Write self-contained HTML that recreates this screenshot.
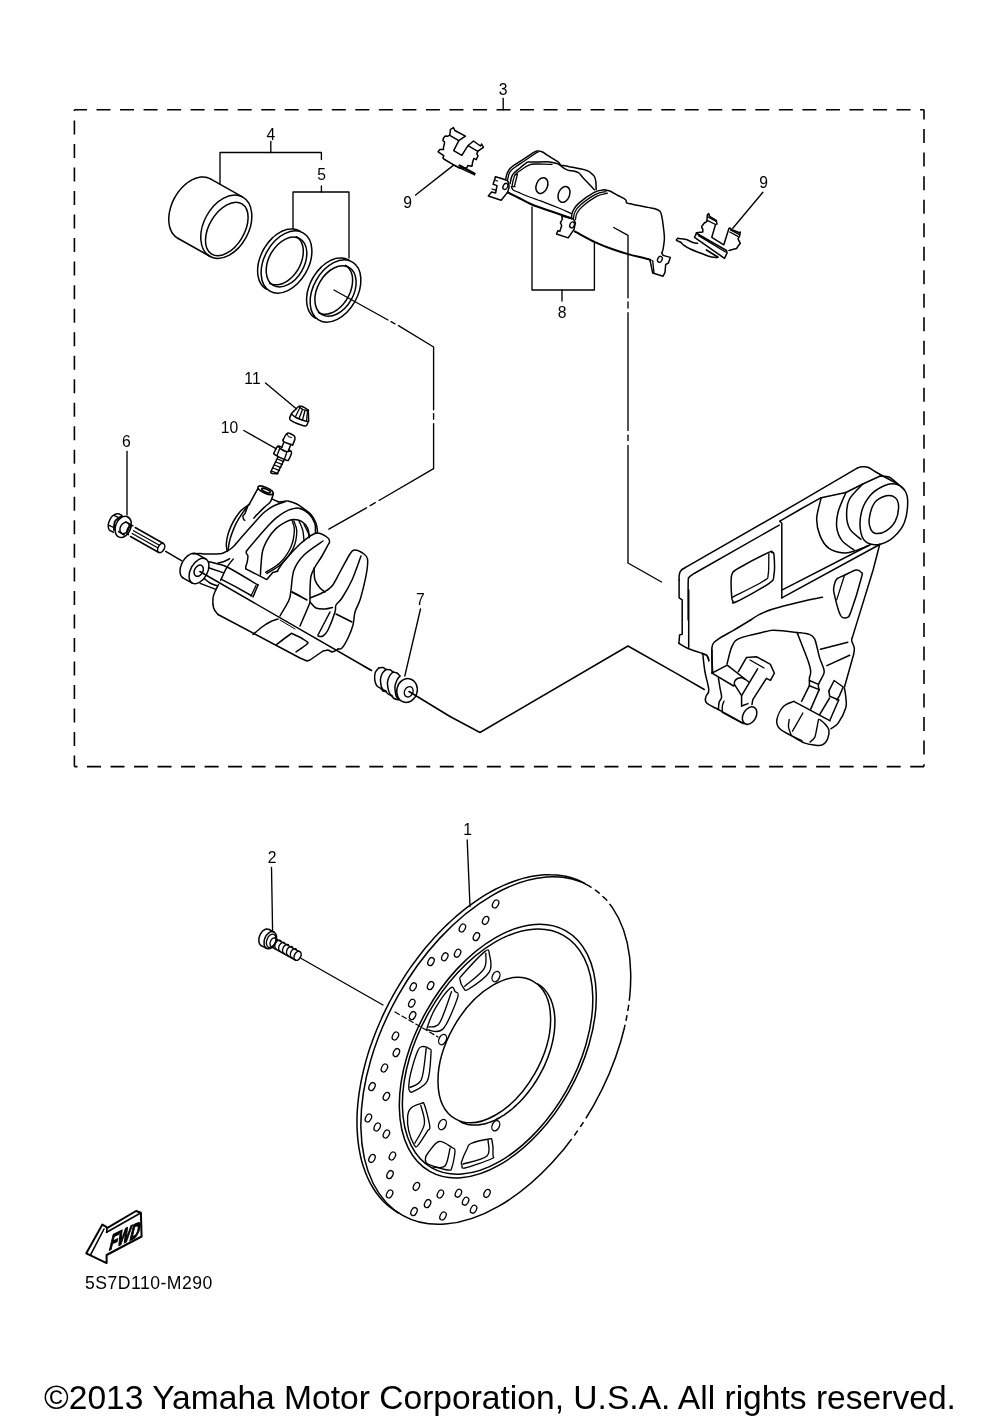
<!DOCTYPE html>
<html><head><meta charset="utf-8"><style>
html,body{margin:0;padding:0;background:#fff;}
body{width:1000px;height:1423px;overflow:hidden;}
svg{display:block;filter:grayscale(1);}
text{font-family:"Liberation Sans",sans-serif;fill:#000;opacity:0.999;}
</style></head><body>
<svg width="1000" height="1423" viewBox="0 0 1000 1423">
<g fill="none" stroke="#000" stroke-width="1.5" stroke-linejoin="round" stroke-linecap="round">
<g stroke-width="1.6" stroke-linecap="butt">
<line x1="74.4" y1="109.7" x2="924" y2="109.7" stroke-dasharray="14 9.53" stroke-dashoffset="1.43"/>
<line x1="74.4" y1="109.7" x2="74.4" y2="766.6" stroke-dasharray="14 9.52" stroke-dashoffset="12.72"/>
<line x1="924" y1="109.7" x2="924" y2="766.6" stroke-dasharray="14 9.52" stroke-dashoffset="4.12"/>
<line x1="74.4" y1="766.6" x2="924" y2="766.6" stroke-dasharray="14 9.52" stroke-dashoffset="10.92"/>
</g>
<g stroke="none">
<text x="503" y="94.8" font-size="15.7" text-anchor="middle">3</text>
<text x="270.8" y="140" font-size="15.7" text-anchor="middle">4</text>
<text x="321.6" y="179.6" font-size="15.7" text-anchor="middle">5</text>
<text x="407.6" y="208" font-size="15.7" text-anchor="middle">9</text>
<text x="763.6" y="188" font-size="15.7" text-anchor="middle">9</text>
<text x="562" y="318" font-size="15.7" text-anchor="middle">8</text>
<text x="252.5" y="384.4" font-size="15.7" text-anchor="middle">11</text>
<text x="229.5" y="433" font-size="15.7" text-anchor="middle">10</text>
<text x="126.3" y="447" font-size="15.7" text-anchor="middle">6</text>
<text x="420.4" y="604.5" font-size="15.7" text-anchor="middle">7</text>
<text x="467.5" y="835" font-size="15.7" text-anchor="middle">1</text>
<text x="272.1" y="862.9" font-size="15.7" text-anchor="middle">2</text>
<text x="84.9" y="1288.9" font-size="17.6" text-anchor="start" letter-spacing="0.5">5S7D110-M290</text>
<text x="44" y="1409" font-size="33.58" text-anchor="start">©2013 Yamaha Motor Corporation, U.S.A. All rights reserved.</text>
</g>
<path d="M503.2 98.3 L503.2 109.7" stroke-width="1.35"/>
<path d="M220 183.8 L220 152.5 L321.4 152.5 L321.4 159.6" stroke-width="1.35"/>
<path d="M270.8 141.5 L270.8 152.5" stroke-width="1.35"/>
<path d="M293 228.6 L293 192 L349 192 L349 258" stroke-width="1.35"/>
<path d="M321.4 186 L321.4 192" stroke-width="1.35"/>
<path d="M532 207 L532 290 L594.4 290 L594.4 243" stroke-width="1.35"/>
<path d="M562 290 L562 301" stroke-width="1.35"/>
<path d="M415.6 195 L453 165.6" stroke-width="1.35"/>
<path d="M762.9 192.2 L732.8 228.3" stroke-width="1.35"/>
<path d="M265.5 383 L296.3 408.8" stroke-width="1.35"/>
<path d="M243.8 430.5 L276.3 448.8" stroke-width="1.35"/>
<path d="M127 451.3 L127 515" stroke-width="1.35"/>
<path d="M420.5 609 L404.8 676" stroke-width="1.35"/>
<path d="M467.2 840 L470 906.5" stroke-width="1.35"/>
<path d="M271.5 867.4 L272.6 931.5" stroke-width="1.35"/>
<ellipse cx="495.8" cy="1050.6" rx="189.3" ry="112.1" transform="rotate(-60.5 495.8 1050.6)"/>
<path d="M585.1 883.6 C584.2 883.2 581.7 881.8 579.9 881 C578.1 880.2 576.3 879.4 574.4 878.8 C572.5 878.1 570.6 877.5 568.7 877 C566.8 876.5 564.8 876.1 562.8 875.8 C560.8 875.4 558.8 875.2 556.7 875 C554.6 874.8 552.5 874.7 550.4 874.7 C548.3 874.6 546.1 874.7 544 874.8 C541.8 874.9 539.6 875.2 537.4 875.4 C535.2 875.7 532.9 876.1 530.7 876.5 C528.4 877 526.1 877.5 523.9 878.1 C521.6 878.7 519.3 879.4 517 880.2 C514.6 880.9 512.3 881.8 510 882.7 C507.6 883.6 505.3 884.6 503 885.6 C500.6 886.7 498.3 887.8 495.9 889 C493.6 890.2 491.2 891.5 488.8 892.9 C486.5 894.2 484.1 895.7 481.8 897.1 C479.4 898.6 477.1 900.2 474.8 901.8 C472.4 903.5 470.1 905.2 467.8 906.9 C465.5 908.7 463.2 910.5 460.9 912.4 C458.6 914.3 456.3 916.2 454 918.2 C451.8 920.2 449.5 922.3 447.3 924.4 C445.1 926.6 442.9 928.7 440.7 931 C438.5 933.2 436.4 935.5 434.2 937.8 C432.1 940.2 430 942.6 427.9 945 C425.9 947.4 423.8 949.9 421.8 952.5 C419.8 955 417.8 957.6 415.9 960.2 C413.9 962.8 412 965.4 410.1 968.1 C408.3 970.8 406.4 973.5 404.6 976.3 C402.8 979.1 401.1 981.8 399.4 984.7 C397.7 987.5 396 990.3 394.4 993.2 C392.7 996.1 391.2 999 389.6 1001.9 C388.1 1004.8 386.6 1007.8 385.2 1010.7 C383.7 1013.7 382.3 1016.7 381 1019.7 C379.6 1022.7 378.4 1025.7 377.1 1028.7 C375.9 1031.7 374.7 1034.7 373.6 1037.7 C372.4 1040.8 371.4 1043.8 370.3 1046.8 C369.3 1049.9 368.3 1052.9 367.4 1055.9 C366.5 1059 365.7 1062 364.9 1065 C364.1 1068 363.4 1071 362.7 1074 C362 1077 361.4 1080 360.8 1083 C360.3 1086 359.8 1088.9 359.3 1091.9 C358.9 1094.8 358.5 1097.7 358.2 1100.6 C357.9 1103.5 357.6 1106.4 357.4 1109.2 C357.2 1112 357.1 1114.9 357 1117.6 C357 1120.4 357 1123.2 357 1125.9 C357.1 1128.6 357.2 1131.3 357.4 1133.9 C357.5 1136.6 357.8 1139.2 358.1 1141.7 C358.4 1144.3 358.7 1146.8 359.2 1149.3 C359.6 1151.7 360.1 1154.1 360.6 1156.5 C361.1 1158.9 361.7 1161.2 362.4 1163.5 C363.1 1165.8 363.8 1168 364.6 1170.1 C365.3 1172.3 366.2 1174.4 367.1 1176.5 C368 1178.5 368.9 1180.5 369.9 1182.4 C370.9 1184.4 372 1186.2 373.1 1188 C374.2 1189.8 375.4 1191.6 376.6 1193.3 C377.8 1194.9 379.1 1196.5 380.4 1198.1 C381.8 1199.6 383.1 1201.1 384.6 1202.5 C386 1203.9 387.5 1205.2 389 1206.5 C390.5 1207.7 392.1 1208.9 393.7 1210 C395.3 1211.2 397.9 1212.6 398.7 1213.2"/>
<ellipse cx="497.8" cy="1051.1" rx="138.2" ry="81.8" transform="rotate(-60.5 497.8 1051.1)"/>
<ellipse cx="497.6" cy="1051.6" rx="133.6" ry="79.1" transform="rotate(-60.5 497.6 1051.6)"/>
<ellipse cx="494.3" cy="1050.1" rx="79" ry="46.8" transform="rotate(-60.5 494.3 1050.1)"/>
<path d="M537.5 983.8 C538 984.2 539.6 985.1 540.6 985.9 C541.6 986.6 542.5 987.4 543.4 988.3 C544.3 989.2 545.1 990.1 545.9 991.1 C546.7 992.1 547.5 993.2 548.2 994.3 C548.9 995.5 549.5 996.6 550.1 997.9 C550.7 999.1 551.3 1000.4 551.7 1001.8 C552.2 1003.1 552.7 1004.6 553 1006 C553.4 1007.5 553.7 1009 554 1010.5 C554.3 1012.1 554.5 1013.6 554.6 1015.3 C554.8 1016.9 554.9 1018.6 554.9 1020.3 C554.9 1022 554.9 1023.7 554.8 1025.5 C554.7 1027.2 554.6 1029 554.4 1030.8 C554.2 1032.6 553.9 1034.5 553.6 1036.3 C553.3 1038.2 553 1040 552.5 1041.9 C552.1 1043.8 551.6 1045.7 551.1 1047.6 C550.6 1049.5 550 1051.4 549.3 1053.3 C548.7 1055.2 548 1057.1 547.3 1058.9 C546.5 1060.8 545.7 1062.7 544.9 1064.6 C544.1 1066.5 543.2 1068.3 542.2 1070.2 C541.3 1072 540.3 1073.8 539.3 1075.6 C538.3 1077.4 537.2 1079.2 536.1 1081 C535 1082.7 533.9 1084.4 532.7 1086.1 C531.5 1087.8 530.3 1089.4 529.1 1091 C527.9 1092.7 526.6 1094.2 525.3 1095.7 C524 1097.3 522.7 1098.8 521.3 1100.2 C520 1101.6 518.6 1103 517.2 1104.3 C515.8 1105.7 514.4 1106.9 513 1108.2 C511.6 1109.4 510.1 1110.5 508.7 1111.6 C507.2 1112.7 505.8 1113.8 504.3 1114.8 C502.8 1115.7 501.3 1116.7 499.9 1117.5 C498.4 1118.3 496.9 1119.1 495.5 1119.8 C494 1120.6 492.5 1121.2 491.1 1121.8 C489.6 1122.3 488.1 1122.8 486.7 1123.3 C485.3 1123.7 483.8 1124 482.4 1124.3 C481 1124.6 479.6 1124.8 478.2 1124.9 C476.9 1125.1 475.5 1125.1 474.2 1125.1 C472.9 1125.1 471.5 1125 470.3 1124.8 C469 1124.7 467.8 1124.4 466.5 1124.1 C465.3 1123.8 464.2 1123.4 463 1123 C461.9 1122.5 460.3 1121.6 459.7 1121.4"/>
<ellipse cx="495.6" cy="904" rx="2.8" ry="4.2" transform="rotate(27 495.6 904)" stroke-width="1.3"/>
<ellipse cx="485.6" cy="920.4" rx="2.8" ry="4.2" transform="rotate(27 485.6 920.4)" stroke-width="1.3"/>
<ellipse cx="462.4" cy="928" rx="2.8" ry="4.2" transform="rotate(27 462.4 928)" stroke-width="1.3"/>
<ellipse cx="476.4" cy="936.6" rx="2.8" ry="4.2" transform="rotate(27 476.4 936.6)" stroke-width="1.3"/>
<ellipse cx="457.6" cy="953.2" rx="2.8" ry="4.2" transform="rotate(27 457.6 953.2)" stroke-width="1.3"/>
<ellipse cx="444.8" cy="956.8" rx="2.8" ry="4.2" transform="rotate(27 444.8 956.8)" stroke-width="1.3"/>
<ellipse cx="431" cy="961.6" rx="2.8" ry="4.2" transform="rotate(27 431 961.6)" stroke-width="1.3"/>
<ellipse cx="413.2" cy="986.8" rx="2.8" ry="4.2" transform="rotate(27 413.2 986.8)" stroke-width="1.3"/>
<ellipse cx="430.6" cy="985.6" rx="2.8" ry="4.2" transform="rotate(27 430.6 985.6)" stroke-width="1.3"/>
<ellipse cx="411.8" cy="1003.2" rx="2.8" ry="4.2" transform="rotate(27 411.8 1003.2)" stroke-width="1.3"/>
<ellipse cx="412.6" cy="1015.6" rx="2.8" ry="4.2" transform="rotate(27 412.6 1015.6)" stroke-width="1.3"/>
<ellipse cx="395.4" cy="1036" rx="2.8" ry="4.2" transform="rotate(27 395.4 1036)" stroke-width="1.3"/>
<ellipse cx="396.4" cy="1052.6" rx="2.8" ry="4.2" transform="rotate(27 396.4 1052.6)" stroke-width="1.3"/>
<ellipse cx="384.4" cy="1068" rx="2.8" ry="4.2" transform="rotate(27 384.4 1068)" stroke-width="1.3"/>
<ellipse cx="372" cy="1086.6" rx="2.8" ry="4.2" transform="rotate(27 372 1086.6)" stroke-width="1.3"/>
<ellipse cx="386.4" cy="1096.4" rx="2.8" ry="4.2" transform="rotate(27 386.4 1096.4)" stroke-width="1.3"/>
<ellipse cx="368.4" cy="1118" rx="2.8" ry="4.2" transform="rotate(27 368.4 1118)" stroke-width="1.3"/>
<ellipse cx="377.2" cy="1127" rx="2.8" ry="4.2" transform="rotate(27 377.2 1127)" stroke-width="1.3"/>
<ellipse cx="386.4" cy="1134" rx="2.8" ry="4.2" transform="rotate(27 386.4 1134)" stroke-width="1.3"/>
<ellipse cx="372" cy="1158.4" rx="2.8" ry="4.2" transform="rotate(27 372 1158.4)" stroke-width="1.3"/>
<ellipse cx="392.4" cy="1156" rx="2.8" ry="4.2" transform="rotate(27 392.4 1156)" stroke-width="1.3"/>
<ellipse cx="390" cy="1174.6" rx="2.8" ry="4.2" transform="rotate(27 390 1174.6)" stroke-width="1.3"/>
<ellipse cx="389.6" cy="1194" rx="2.8" ry="4.2" transform="rotate(27 389.6 1194)" stroke-width="1.3"/>
<ellipse cx="416.4" cy="1186.4" rx="2.8" ry="4.2" transform="rotate(27 416.4 1186.4)" stroke-width="1.3"/>
<ellipse cx="414" cy="1211.6" rx="2.8" ry="4.2" transform="rotate(27 414 1211.6)" stroke-width="1.3"/>
<ellipse cx="427.6" cy="1203.6" rx="2.8" ry="4.2" transform="rotate(27 427.6 1203.6)" stroke-width="1.3"/>
<ellipse cx="440.4" cy="1194" rx="2.8" ry="4.2" transform="rotate(27 440.4 1194)" stroke-width="1.3"/>
<ellipse cx="443" cy="1216" rx="2.8" ry="4.2" transform="rotate(27 443 1216)" stroke-width="1.3"/>
<ellipse cx="458.4" cy="1193.2" rx="2.8" ry="4.2" transform="rotate(27 458.4 1193.2)" stroke-width="1.3"/>
<ellipse cx="465.6" cy="1201.2" rx="2.8" ry="4.2" transform="rotate(27 465.6 1201.2)" stroke-width="1.3"/>
<ellipse cx="473.6" cy="1209.2" rx="2.8" ry="4.2" transform="rotate(27 473.6 1209.2)" stroke-width="1.3"/>
<ellipse cx="487" cy="1193.4" rx="2.8" ry="4.2" transform="rotate(27 487 1193.4)" stroke-width="1.3"/>
<ellipse cx="496" cy="976.6" rx="3.6" ry="5.4" transform="rotate(25 496 976.6)" stroke-width="1.35"/>
<ellipse cx="442.6" cy="1039.6" rx="3.6" ry="5.4" transform="rotate(25 442.6 1039.6)" stroke-width="1.35"/>
<ellipse cx="442.4" cy="1124.6" rx="3.6" ry="5.4" transform="rotate(25 442.4 1124.6)" stroke-width="1.35"/>
<ellipse cx="495.8" cy="1125.8" rx="3.6" ry="5.4" transform="rotate(25 495.8 1125.8)" stroke-width="1.35"/>
<path d="M485 951.4 C489.5 948 488.7 951 489.4 954.4 C490.1 957.8 492.9 966 489.4 971.8 C485.9 977.6 472.7 986.5 468.4 989.2 C464.1 991.9 465 989.6 463.6 988 C462.2 986.4 460.2 981.8 460 979.6 C459.8 977.4 458.2 979.5 462.4 974.8 C466.6 970.1 480.5 954.8 485 951.4Z" stroke-width="1.35"/>
<path d="M464.8 986.2 C468 983.3 480.5 974.3 484 968.8 C487.5 963.3 485.5 955.8 485.8 953.2" stroke-width="1.35"/>
<path d="M450.4 988 C453.6 985.4 454 990 455.2 991.6 C456.4 993.2 459.6 991.4 457.6 997.6 C455.6 1003.8 448 1023.4 443.2 1028.8 C438.4 1034.2 431.4 1030.4 428.8 1030 C426.2 1029.6 426.4 1030.2 427.6 1026.4 C428.8 1022.6 432.2 1013.6 436 1007.2 C439.8 1000.8 447.2 990.6 450.4 988Z" stroke-width="1.35"/>
<path d="M451.6 991.6 C449.6 996.8 443.4 1016.9 439.6 1022.8 C435.8 1028.7 430.6 1026.3 428.8 1027" stroke-width="1.35"/>
<path d="M422.6 1046.6 C424.6 1046.3 428.4 1047.9 429.8 1049 C431.2 1050.1 431.4 1047.9 431 1053.2 C430.6 1058.5 430.4 1074.4 427.4 1080.8 C424.4 1087.2 416 1090 413 1091.6 C410 1093.2 410.1 1091.4 409.4 1090.4 C408.7 1089.4 408.6 1088.4 408.8 1085.6 C409 1082.8 409.1 1079.4 410.6 1073.6 C412.1 1067.8 415.8 1055.3 417.8 1050.8 C419.8 1046.3 420.6 1046.9 422.6 1046.6Z" stroke-width="1.35"/>
<path d="M426.2 1048.4 C425.4 1053.6 424.1 1073.1 421.4 1079.6 C418.7 1086.1 411.9 1086.1 410 1087.4" stroke-width="1.35"/>
<path d="M420.8 1103.6 C423.1 1103 422.9 1101 424.4 1104.8 C425.9 1108.6 429.3 1122 429.8 1126.4 C430.3 1130.8 429.4 1128 427.4 1131.2 C425.4 1134.4 420 1143.3 417.8 1145.6 C415.6 1147.9 415.7 1147.4 414.2 1145 C412.7 1142.6 409.9 1135.9 408.8 1131.2 C407.7 1126.5 407.3 1120.6 407.6 1116.8 C407.9 1113 408.4 1110.6 410.6 1108.4 C412.8 1106.2 418.5 1104.2 420.8 1103.6Z" stroke-width="1.35"/>
<path d="M420.8 1105.4 C421.4 1108.5 425.4 1117.7 424.4 1124 C423.4 1130.3 416.4 1140 414.8 1143.2" stroke-width="1.35"/>
<path d="M439 1141.5 C443 1140.6 449.3 1145.9 452 1147.5 C454.7 1149.1 455 1147.8 455 1151 C455 1154.2 453.2 1163.8 452 1167 C450.8 1170.2 452 1170.5 448 1170 C444 1169.5 431.8 1166 428 1164 C424.2 1162 425.5 1159.8 425.5 1158 C425.5 1156.2 425.8 1155.8 428 1153 C430.2 1150.2 435 1142.4 439 1141.5Z" stroke-width="1.35"/>
<path d="M450 1148.5 C449.2 1151.4 447.8 1162.9 445 1166 C442.2 1169.1 435 1166.8 433 1167" stroke-width="1.35"/>
<path d="M471 1143.5 C474.7 1141.8 485.5 1139.5 489 1139 C492.5 1138.5 491.3 1137.8 492 1140.5 C492.7 1143.2 493.2 1151.9 493 1155 C492.8 1158.1 495.7 1156.8 491 1159 C486.3 1161.2 469.8 1167 465 1168 C460.2 1169 462.6 1166 462 1165 C461.4 1164 460.7 1164.7 461.5 1162 C462.3 1159.3 465.4 1152.1 467 1149 C468.6 1145.9 467.3 1145.2 471 1143.5Z" stroke-width="1.35"/>
<path d="M488 1140 C487.8 1142.7 491.2 1152 487 1156 C482.8 1160 467 1162.7 463 1164" stroke-width="1.35"/>
<path d="M301.3 958.5 L383 1005" stroke-width="1.35"/>
<path d="M395 1012 L438 1037" stroke-width="1.2" stroke-dasharray="5 3"/>
<path d="M591.7 887.4 L595 889.6" stroke="#fff" stroke-width="3.2" stroke-linecap="butt"/>
<path d="M599.8 893.4 L602.6 896" stroke="#fff" stroke-width="3.2" stroke-linecap="butt"/>
<path d="M607.2 900.8 L609.6 903.8" stroke="#fff" stroke-width="3.2" stroke-linecap="butt"/>
<path d="M629.3 1000.7 L628.7 1004.8" stroke="#fff" stroke-width="3.2" stroke-linecap="butt"/>
<path d="M627.8 1011 L627 1015.1" stroke="#fff" stroke-width="3.2" stroke-linecap="butt"/>
<path d="M625.9 1020.9 L625.1 1024.8" stroke="#fff" stroke-width="3.2" stroke-linecap="butt"/>
<path d="M585.9 1118.3 L583.4 1122.1" stroke="#fff" stroke-width="3.2" stroke-linecap="butt"/>
<path d="M580.3 1126.9 L577.8 1130.6" stroke="#fff" stroke-width="3.2" stroke-linecap="butt"/>
<path d="M574.3 1135.5 L571.7 1139" stroke="#fff" stroke-width="3.2" stroke-linecap="butt"/>
<ellipse cx="226.3" cy="226.7" rx="33.9" ry="22.5" transform="rotate(-61.6 226.3 226.7)"/>
<ellipse cx="226.8" cy="229" rx="29.4" ry="17.5" transform="rotate(-59 226.8 229)"/>
<path d="M178.2 238.5 C177.8 238.3 176.8 237.7 176.2 237.2 C175.6 236.8 175 236.2 174.4 235.6 C173.9 235.1 173.3 234.4 172.8 233.8 C172.4 233.1 171.9 232.4 171.5 231.6 C171.1 230.8 170.8 230 170.4 229.2 C170.1 228.3 169.8 227.4 169.6 226.5 C169.4 225.6 169.2 224.7 169.1 223.7 C168.9 222.7 168.8 221.7 168.8 220.7 C168.8 219.7 168.8 218.6 168.8 217.6 C168.9 216.5 169 215.4 169.1 214.3 C169.2 213.3 169.4 212.2 169.7 211.1 C169.9 210 170.2 208.8 170.5 207.7 C170.8 206.6 171.2 205.5 171.6 204.4 C172 203.3 172.4 202.2 172.9 201.2 C173.4 200.1 173.9 199 174.5 198 C175.1 197 175.7 195.9 176.3 194.9 C176.9 193.9 177.6 193 178.3 192 C179 191.1 179.7 190.2 180.5 189.3 C181.2 188.4 182 187.6 182.8 186.8 C183.6 186 184.4 185.2 185.2 184.5 C186.1 183.8 186.9 183.1 187.8 182.5 C188.6 181.9 189.5 181.3 190.4 180.8 C191.3 180.3 192.2 179.8 193 179.4 C193.9 179 194.8 178.6 195.7 178.3 C196.6 178 197.5 177.7 198.4 177.5 C199.2 177.3 200.1 177.2 201 177.1 C201.8 177 202.7 177 203.5 177 C204.3 177.1 205.2 177.2 206 177.3 C206.7 177.5 207.5 177.7 208.3 177.9 C209 178.2 210.1 178.7 210.4 178.9"/>
<path d="M242.4 196.9 L210.4 178.9"/>
<path d="M210.2 256.5 L178.2 238.5"/>
<ellipse cx="286.5" cy="262" rx="33.5" ry="22.1" transform="rotate(119.7 286.5 262)"/>
<path d="M266.4 289.1 C266.1 288.9 265.1 288.3 264.5 287.8 C263.9 287.3 263.3 286.8 262.8 286.2 C262.2 285.6 261.7 284.9 261.3 284.3 C260.8 283.6 260.4 282.9 260 282.1 C259.6 281.3 259.3 280.5 259 279.7 C258.7 278.9 258.5 278 258.3 277.1 C258.1 276.2 257.9 275.2 257.8 274.3 C257.7 273.3 257.6 272.3 257.6 271.3 C257.6 270.3 257.6 269.3 257.7 268.2 C257.8 267.2 257.9 266.1 258.1 265 C258.2 264 258.4 262.9 258.7 261.8 C259 260.7 259.3 259.6 259.6 258.6 C260 257.5 260.3 256.4 260.8 255.3 C261.2 254.2 261.7 253.2 262.2 252.1 C262.7 251.1 263.2 250 263.8 249 C264.4 248 265 247 265.6 246.1 C266.3 245.1 267 244.1 267.7 243.2 C268.4 242.3 269.1 241.4 269.9 240.6 C270.6 239.7 271.4 238.9 272.2 238.1 C273 237.4 273.8 236.6 274.7 236 C275.5 235.3 276.4 234.6 277.2 234 C278.1 233.4 279 232.9 279.9 232.4 C280.7 231.9 281.6 231.4 282.5 231 C283.4 230.7 284.3 230.3 285.2 230 C286 229.7 286.9 229.5 287.8 229.3 C288.7 229.2 289.5 229 290.4 229 C291.2 228.9 292.1 228.9 292.9 228.9 C293.7 229 294.5 229.1 295.3 229.3 C296 229.4 296.8 229.7 297.5 229.9 C298.2 230.2 299.3 230.7 299.6 230.9"/>
<ellipse cx="286.5" cy="262" rx="26.8" ry="17.7" transform="rotate(119.7 286.5 262)"/>
<path d="M296.3 236.7 C296.6 236.9 297.3 237.4 297.8 237.8 C298.3 238.2 298.8 238.6 299.2 239.1 C299.6 239.5 300 240 300.4 240.6 C300.8 241.1 301.1 241.7 301.4 242.3 C301.7 242.9 302 243.6 302.2 244.2 C302.4 244.9 302.6 245.6 302.8 246.3 C302.9 247.1 303.1 247.8 303.2 248.6 C303.2 249.3 303.3 250.1 303.3 251 C303.3 251.8 303.3 252.6 303.2 253.4 C303.2 254.3 303.1 255.1 302.9 256 C302.8 256.8 302.6 257.7 302.4 258.6 C302.2 259.4 302 260.3 301.7 261.2 C301.4 262 301.1 262.9 300.8 263.7 C300.4 264.6 300.1 265.5 299.7 266.3 C299.3 267.1 298.8 268 298.4 268.8 C297.9 269.6 297.4 270.4 296.9 271.2 C296.4 271.9 295.8 272.7 295.3 273.4 C294.7 274.2 294.1 274.9 293.5 275.5 C292.9 276.2 292.3 276.9 291.6 277.5 C291 278.1 290.3 278.7 289.7 279.2 C289 279.8 288.3 280.3 287.6 280.8 C286.9 281.3 286.2 281.7 285.5 282.1 C284.8 282.5 284.1 282.8 283.4 283.2 C282.7 283.5 282 283.8 281.3 284 C280.6 284.2 279.9 284.4 279.2 284.5 C278.5 284.7 277.8 284.8 277.1 284.8 C276.4 284.9 275.8 284.9 275.1 284.8 C274.4 284.8 273.8 284.7 273.2 284.6 C272.6 284.5 272 284.3 271.4 284.1 C270.8 283.8 270 283.4 269.7 283.3"/>
<ellipse cx="335.5" cy="291" rx="33.5" ry="22.1" transform="rotate(119.7 335.5 291)"/>
<path d="M315.4 318.1 C315.1 317.9 314.1 317.3 313.5 316.8 C312.9 316.3 312.3 315.8 311.8 315.2 C311.2 314.6 310.7 313.9 310.3 313.3 C309.8 312.6 309.4 311.9 309 311.1 C308.6 310.3 308.3 309.5 308 308.7 C307.7 307.9 307.5 307 307.3 306.1 C307.1 305.2 306.9 304.2 306.8 303.3 C306.7 302.3 306.6 301.3 306.6 300.3 C306.6 299.3 306.6 298.3 306.7 297.2 C306.8 296.2 306.9 295.1 307.1 294 C307.2 293 307.4 291.9 307.7 290.8 C308 289.7 308.3 288.6 308.6 287.6 C309 286.5 309.3 285.4 309.8 284.3 C310.2 283.2 310.7 282.2 311.2 281.1 C311.7 280.1 312.2 279 312.8 278 C313.4 277 314 276 314.6 275.1 C315.3 274.1 316 273.1 316.7 272.2 C317.4 271.3 318.1 270.4 318.9 269.6 C319.6 268.7 320.4 267.9 321.2 267.1 C322 266.4 322.8 265.6 323.7 265 C324.5 264.3 325.4 263.6 326.2 263 C327.1 262.4 328 261.9 328.9 261.4 C329.7 260.9 330.6 260.4 331.5 260 C332.4 259.7 333.3 259.3 334.2 259 C335 258.7 335.9 258.5 336.8 258.3 C337.7 258.2 338.5 258 339.4 258 C340.2 257.9 341.1 257.9 341.9 257.9 C342.7 258 343.5 258.1 344.3 258.3 C345 258.4 345.8 258.7 346.5 258.9 C347.2 259.2 348.3 259.7 348.6 259.9"/>
<ellipse cx="335.5" cy="291" rx="27.2" ry="18" transform="rotate(119.7 335.5 291)"/>
<path d="M345.5 265.4 C345.8 265.6 346.6 266 347.1 266.4 C347.5 266.8 348 267.3 348.4 267.8 C348.9 268.2 349.3 268.7 349.7 269.3 C350 269.8 350.4 270.4 350.7 271 C351 271.7 351.2 272.3 351.5 273 C351.7 273.7 351.9 274.4 352.1 275.1 C352.2 275.9 352.4 276.6 352.5 277.4 C352.5 278.2 352.6 279 352.6 279.8 C352.6 280.6 352.6 281.5 352.5 282.3 C352.5 283.2 352.4 284 352.2 284.9 C352.1 285.8 351.9 286.7 351.7 287.5 C351.5 288.4 351.3 289.3 351 290.2 C350.7 291.1 350.4 291.9 350.1 292.8 C349.7 293.7 349.3 294.5 348.9 295.4 C348.5 296.2 348.1 297.1 347.6 297.9 C347.1 298.7 346.6 299.5 346.1 300.3 C345.6 301.1 345 301.9 344.4 302.6 C343.9 303.4 343.3 304.1 342.7 304.8 C342 305.5 341.4 306.1 340.8 306.7 C340.1 307.4 339.4 308 338.8 308.5 C338.1 309.1 337.4 309.6 336.7 310.1 C336 310.6 335.3 311 334.6 311.4 C333.8 311.8 333.1 312.2 332.4 312.5 C331.7 312.8 331 313.1 330.2 313.3 C329.5 313.6 328.8 313.8 328.1 313.9 C327.4 314 326.7 314.1 326 314.2 C325.3 314.2 324.6 314.3 324 314.2 C323.3 314.2 322.7 314.1 322 314 C321.4 313.8 320.8 313.6 320.2 313.4 C319.6 313.2 318.8 312.7 318.5 312.6"/>
<path d="M334 290 L388 320" stroke-width="1.35"/>
<path d="M391 321.6 L395 323.8" stroke-width="1.35"/>
<path d="M398.5 325.7 L433.6 347 L433.6 409.7" stroke-width="1.35"/>
<path d="M433.6 413.6 L433.6 419.3" stroke-width="1.35"/>
<path d="M433.6 423.7 L433.6 468.7 L379 500.5" stroke-width="1.35"/>
<path d="M375.3 502.7 L370.2 505.6" stroke-width="1.35"/>
<path d="M366.5 507.8 L328.9 529.2" stroke-width="1.35"/>
<ellipse cx="265.5" cy="490.3" rx="8.3" ry="2.9" transform="rotate(24 265.5 490.3)"/>
<ellipse cx="266" cy="490.6" rx="4.6" ry="1.5" transform="rotate(24 266 490.6)" stroke-width="1.7"/>
<path d="M257.8 488.6 L248.8 505.2"/>
<path d="M247.9 505.5 C247.4 506.8 245.9 511.5 245.1 513.2 C244.3 515 243.2 515 243 516 C242.8 517 243.4 518.8 243.7 519.5 C244 520.2 244.6 520.1 244.8 520.2"/>
<path d="M273.4 493.6 C273.1 494.5 272.3 497.4 271.7 498.9 C271.1 500.4 270.9 501.2 269.6 502.7 C268.3 504.1 266.1 505.6 264 507.6 C261.9 509.6 258.7 512.9 257 514.6 C255.3 516.4 254.4 517.5 253.9 518.1"/>
<path d="M271.7 498.9 L278.7 502"/>
<path d="M249.5 504.2 C248.1 505.2 243.5 508 241.1 510.5 C238.7 513 236.6 516.2 234.8 519 C233 521.8 231.7 524.6 230.5 527.4 C229.3 530.2 228.3 533.1 227.6 535.9 C226.9 538.7 226.4 541.7 226.3 544.3 C226.2 546.9 227 550.3 227.2 551.5"/>
<path d="M247.8 505.9 C246.8 507.2 243.9 510.9 241.9 513.9 C239.9 516.9 237.7 520.3 236 523.6 C234.3 526.9 232.9 530.7 231.8 533.8 C230.7 536.9 229.9 539.4 229.3 542.2 C228.7 545 228.2 549.2 228 550.6"/>
<path d="M278.7 502 C279.8 501.9 283.4 501.5 285 501.3 C286.6 501.1 286 500.6 288 501 C290 501.4 294.1 502.7 296.8 504 C299.5 505.3 301.6 507 304 508.8 C306.4 510.6 309.2 512.4 311.2 514.8 C313.2 517.2 315 520.6 316 523.2 C317 525.8 317.2 528.8 317.4 530.4 C317.6 532 317.1 532.6 317 533"/>
<path d="M193 554 C194.2 553.9 198 553.4 200 553.4 C202 553.4 202.5 553.9 205 554 C207.5 554.1 212.2 554.1 215 554 C217.8 553.9 219.9 553.9 222 553.4 C224.1 552.9 225.4 552.1 227.3 551 C229.2 549.9 230.6 549.4 233.2 546.8 C235.8 544.2 239.5 539.6 243 535.6 C246.5 531.6 250.7 526.9 254.2 523 C257.7 519.1 260.6 515.4 264 512.5 C267.4 509.6 271 507.3 274.5 505.5 C278 503.7 283.2 502.3 285 501.7"/>
<path d="M246.5 551 C248.2 548.9 253.5 542.5 257 538.4 C260.5 534.3 264.4 529.9 267.5 526.5 C270.6 523.1 273 520.6 275.9 518.1 C278.8 515.6 282.3 513.3 285 511.8 C287.7 510.3 289.6 509.6 292 509 C294.4 508.4 296.4 507.4 299.2 508.2 C302 509 306.2 511.1 308.8 513.6 C311.4 516.1 313.7 520 314.8 523.2 C315.9 526.4 315.3 531.2 315.4 532.8"/>
<path d="M246.5 551 C246.4 551.4 246 552.3 246.2 553.1 C246.4 553.9 247.7 554.4 247.9 555.9 C248.1 557.4 247.5 560.5 247.2 562.2 C246.8 564 246 565.3 245.8 566.4 C245.6 567.5 245.8 568.4 245.8 568.8"/>
<path d="M245.8 568.8 L266.8 579.6 L272.8 572.4 L277.6 571.2"/>
<path d="M260.5 575 C260.6 573.8 260.4 572 260.8 568 C261.2 564 261.4 555.9 262.6 551 C263.8 546.1 266 542.1 268.2 538.4 C270.4 534.7 273.1 531.3 275.9 528.6 C278.7 525.9 282.1 523.8 285 522.3 C287.9 520.8 290.4 519.8 293.2 519.6 C296 519.5 299.2 520 301.6 521.4 C304 522.8 306.3 525.5 307.6 528 C308.9 530.5 309.1 535 309.4 536.4"/>
<path d="M292 520.2 C292.4 521.9 294.6 525.9 294.4 530.4 C294.2 534.9 293.2 541.8 290.8 547.2 C288.4 552.6 284.2 558.6 280 562.8 C275.8 567 268 570.8 265.6 572.4" stroke-width="1.35"/>
<path d="M293.8 520.8 C294.3 522.6 296.9 527 296.8 531.6 C296.7 536.2 295.8 543 293.2 548.4 C290.6 553.8 285.6 559.8 281.2 564 C276.8 568.2 269.2 572 266.8 573.6" stroke-width="1.35"/>
<path d="M299.2 521.4 C299.8 522.9 302 527.1 302.8 530.4 C303.6 533.7 303.8 539.4 304 541.2" stroke-width="1.35"/>
<path d="M304 524.4 C304.7 525.8 307.3 530.6 308.2 532.8 C309.1 535 309.2 536.8 309.4 537.6" stroke-width="1.35"/>
<path d="M310 536 C311.3 535.5 315 532.7 318 533 C321 533.3 326.1 536.5 328 538 C329.9 539.5 329.5 540.8 329.5 542 C329.5 543.2 329.2 542.7 328 545 C326.8 547.3 324.2 552.3 322 556 C319.8 559.7 316.8 563.7 315 567 C313.2 570.3 311.8 572.2 311 576 C310.2 579.8 310.2 586 310 590 C309.8 594 310.2 597.5 310 600 C309.8 602.5 310.7 600.7 309 605 C307.3 609.3 301.5 622.5 300 626"/>
<path d="M323 541 C319.8 543.3 308.8 550.2 304 555 C299.2 559.8 296.2 564.2 294 570 C291.8 575.8 291.8 585 291 590 C290.2 595 290.8 595.7 289 600 C287.2 604.3 281.5 613.3 280 616"/>
<path d="M310 536 C308.3 537.3 304.2 540 300 544 C295.8 548 288.7 555.7 285 560 C281.3 564.3 279.2 568.1 278 570 C276.8 571.9 277.7 571 277.6 571.2"/>
<path d="M338 649 C338.7 648.8 340.3 649.8 342 648 C343.7 646.2 346.2 641.8 348 638 C349.8 634.2 351.8 629.3 353 625 C354.2 620.7 353.8 616.2 355 612 C356.2 607.8 358.5 604.5 360 600 C361.5 595.5 362.8 590 364 585 C365.2 580 366.4 574.3 367 570 C367.6 565.7 368 561.7 367.5 559 C367 556.3 366.1 555.5 364 554 C361.9 552.5 357.3 550 355 550 C352.7 550 352.5 550.3 350 554 C347.5 557.7 343 566.7 340 572 C337 577.3 334.7 582.7 332 586 C329.3 589.3 327.7 590 324 592 C320.3 594 312.3 597 310 598"/>
<path d="M361 556 C359.5 560 355.2 573 352 580 C348.8 587 344.7 593.8 342 598 C339.3 602.2 337.2 602.7 336 605 C334.8 607.3 336.3 607.8 335 612 C333.7 616.2 330 626 328 630 C326 634 324.7 635 323 636 C321.3 637 318.8 636 318 636"/>
<path d="M314 568 C314.2 570 314 576.7 315 580 C316 583.3 318.3 586 320 588 C321.7 590 324.2 591.3 325 592"/>
<path d="M310 602 C311 603 313.5 606.8 316 608 C318.5 609.2 322.2 609.1 325 609 C327.8 608.9 331.2 607.8 332.5 607.5"/>
<path d="M292 592 L307 600"/>
<path d="M336 614 L352 622"/>
<path d="M330 612 L318 635"/>
<ellipse cx="199" cy="571" rx="13.8" ry="8.4" transform="rotate(119.1 199 571)"/>
<path d="M183.3 578.1 C183.1 578 182.7 577.7 182.4 577.4 C182.1 577.2 181.9 576.9 181.6 576.6 C181.4 576.3 181.2 575.9 181 575.6 C180.8 575.2 180.6 574.8 180.5 574.4 C180.4 574 180.3 573.5 180.2 573.1 C180.1 572.6 180.1 572.1 180.1 571.6 C180 571.1 180 570.6 180.1 570.1 C180.1 569.6 180.2 569 180.3 568.5 C180.4 567.9 180.5 567.4 180.6 566.8 C180.8 566.3 181 565.7 181.2 565.2 C181.4 564.6 181.6 564.1 181.8 563.5 C182.1 563 182.3 562.4 182.6 561.9 C182.9 561.4 183.2 560.9 183.6 560.4 C183.9 559.9 184.3 559.4 184.6 558.9 C185 558.5 185.4 558 185.8 557.6 C186.2 557.2 186.6 556.8 187 556.4 C187.4 556.1 187.8 555.7 188.2 555.4 C188.7 555.1 189.1 554.8 189.5 554.6 C190 554.3 190.4 554.1 190.8 553.9 C191.3 553.8 191.7 553.6 192.1 553.5 C192.5 553.4 193 553.3 193.4 553.3 C193.8 553.3 194.2 553.3 194.6 553.3 C195 553.3 195.3 553.4 195.7 553.5 C196 553.6 196.5 553.9 196.7 553.9"/>
<path d="M192.3 583.1 L183.3 578.1"/>
<path d="M205.7 558.9 L196.7 553.9"/>
<ellipse cx="198.7" cy="570.7" rx="6" ry="4.2" transform="rotate(-62 198.7 570.7)"/>
<path d="M218.2 563 C219.2 562.8 222.1 562.2 224 561.5 C225.9 560.8 228.7 559.2 229.6 558.8"/>
<path d="M233.2 559.1 C232.1 560.5 228.7 564.2 226.6 567.8 C224.5 571.3 221.6 578.3 220.6 580.4"/>
<path d="M209.2 561.8 C210.7 562.2 214.7 563 218 564 C221.3 565 222.3 564.5 229 568 C235.7 571.5 253.2 582.2 258 585"/>
<path d="M208.6 567.8 L223 572.6"/>
<path d="M204.4 578.6 C205.3 579.3 207.9 581.8 210 583 C212.1 584.2 215.8 585.3 217 585.8"/>
<path d="M200.2 583.4 L215.8 589.4"/>
<path d="M222.4 579.8 L235 586.4 L252 596"/>
<path d="M258 585 L253 597"/>
<path d="M256 585.5 L251 596" stroke-width="1.3"/>
<path d="M218.5 584.5 C218 585.6 216.2 588.8 215.3 591 C214.4 593.2 213.3 595.2 213 598 C212.7 600.8 212.8 605.2 213.6 608 C214.4 610.8 217.3 613.4 218 614.5"/>
<path d="M218 614.5 L300 658 L307 661 L310 660 L323 651 L328 650 L332 652 L335 651 L338 649"/>
<path d="M253 634.5 C254.5 633.2 259.2 629.1 262 627 C264.8 624.9 267.3 623.3 270 622 C272.7 620.7 276.7 619.5 278 619"/>
<path d="M276 645 C278.3 643.2 287.2 636.3 290 634.5 C292.8 632.7 290.3 632.9 293 634 C295.7 635.1 303.7 639.3 306 641 C308.3 642.7 308.7 642.2 307 644 C305.3 645.8 297.8 650.7 296 652"/>
<path d="M292 592 L300 596"/>
<path d="M280 620 L295 629" stroke-width="1.0"/>
<path d="M199.8 571.5 L371.5 670.5"/>
<path d="M165.7 551.4 L181.9 560.8"/>
<path d="M113.4 532.1 C112.9 531.9 110.9 531.2 110.1 530.7 C109.3 530.2 109 529.9 108.7 528.9 C108.4 527.9 108.2 526.1 108.3 524.9 C108.3 523.7 108.5 523 109 521.7 C109.5 520.5 110.4 518.5 111.2 517.4 C112 516.2 112.9 515.4 114 514.8 C115.1 514.2 116.5 513.8 117.7 513.8 C118.9 513.8 120.2 514.4 120.9 514.8 C121.6 515.1 121.8 515.7 122 515.9"/>
<path d="M114.4 515.6 L119.8 518.1" stroke-width="1.3"/>
<path d="M109 525.3 L113.7 527.4" stroke-width="1.3"/>
<path d="M113.9 530 C114.1 528.6 114 523.7 114.8 521.7 C115.5 519.7 117.2 519 118.4 518.1 C119.6 517.2 121.4 516.6 122 516.3" stroke-width="1.8"/>
<ellipse cx="123.2" cy="526.9" rx="11" ry="7.6" transform="rotate(-68 123.2 526.9)"/>
<ellipse cx="124.6" cy="528" rx="6" ry="4.3" transform="rotate(-62 124.6 528)"/>
<path d="M125.8 521.8 L131.4 524.9"/>
<path d="M118.6 531.6 L124.2 535"/>
<path d="M128.3 534.6 C128.2 534.5 127.8 534.3 127.7 534.2 C127.5 534 127.3 533.8 127.2 533.5 C127.1 533.3 127 533 126.9 532.7 C126.9 532.4 126.9 532.1 126.9 531.7 C126.9 531.4 126.9 531.1 127 530.7 C127 530.4 127.1 530 127.2 529.7 C127.4 529.3 127.5 529 127.7 528.7 C127.9 528.3 128.1 528 128.3 527.7 C128.5 527.4 128.7 527.1 129 526.9 C129.2 526.6 129.5 526.4 129.8 526.2 C130.1 526.1 130.3 525.9 130.6 525.8 C130.9 525.7 131.2 525.6 131.5 525.6 C131.7 525.5 132 525.5 132.2 525.6 C132.5 525.6 132.8 525.7 132.9 525.8"/>
<path d="M135.2 527.5 L163.5 543.5"/>
<path d="M130.5 536.5 L158.8 552.5"/>
<path d="M133.5 530.8 L158.5 544.8" stroke-width="1.3"/>
<path d="M132.2 533.5 L157.2 547.5" stroke-width="1.3"/>
<ellipse cx="161.2" cy="548" rx="5" ry="3.1" transform="rotate(-62 161.2 548)"/>
<path d="M283 440 C283.4 439.3 284.6 436.7 285.3 435.6 C286.1 434.5 286.7 433.6 287.5 433.2 C288.3 432.8 288.8 433 290 433.5 C291.2 434 293.7 435.2 294.5 436.2 C295.3 437.2 295.1 438 294.8 439.5 C294.5 441 293 444.1 292.6 445"/>
<path d="M283 440 C283.1 440.3 282.8 441.1 283.6 441.7 C284.4 442.3 286.5 442.9 288 443.5 C289.5 444.1 291.8 444.8 292.6 445"/>
<path d="M287 433.5 L288.5 436.8 L291.5 437.5" stroke-width="1.0"/>
<path d="M283.6 442.8 L281.9 447.3"/>
<path d="M290.9 444.5 L288.6 450.1"/>
<path d="M281.9 447.3 C281.2 447.1 279.1 445.4 277.9 446.2 C276.7 446.9 275.1 450.4 274.6 451.8 C274.1 453.2 272.8 453.2 274.8 454.6 C276.8 456 284.1 459.4 286.4 460.2 C288.7 461 287.8 460.8 288.6 459.7 C289.4 458.6 291 454.9 291.4 453.5 C291.8 452.1 291.4 451.8 290.9 451.2 C290.4 450.6 289 450.3 288.6 450.1"/>
<path d="M277.9 446.2 C278.4 446.7 279.6 448.1 281 449 C282.4 449.9 284.4 451.1 286 451.5 C287.6 451.9 290.1 451.2 290.9 451.2"/>
<path d="M279.5 449 L277 455.5" stroke-width="1.35"/>
<path d="M286.7 452.5 L284.5 459" stroke-width="1.35"/>
<path d="M278 456.8 L270.8 471.8"/>
<path d="M284.2 459.5 L277.2 473.8"/>
<path d="M270.8 471.8 C270.9 472 270.4 472.9 271.5 473.2 C272.6 473.5 276.2 473.7 277.2 473.8"/>
<path d="M277.5 459 L283.8 461.6" stroke-width="1.3"/>
<path d="M276.1 462 L282.4 464.6" stroke-width="1.3"/>
<path d="M274.6 465 L280.9 467.6" stroke-width="1.3"/>
<path d="M273.2 468 L279.5 470.6" stroke-width="1.3"/>
<path d="M271.7 471 L278 473.6" stroke-width="1.3"/>
<path d="M289.7 417.5 C290.1 416.8 291 414.3 292 413 C293 411.7 294.4 410.6 295.5 409.5 C296.6 408.4 297.8 407.1 298.7 406.5 C299.6 405.9 299.9 406 301 406.2 C302.1 406.4 303.8 407.1 305 407.8 C306.2 408.5 307.8 409.8 308.3 410.2"/>
<path d="M308.3 410.2 L308.6 420.9"/>
<path d="M289.7 417.5 C289.7 417.8 289.6 418.5 289.8 419 C290 419.5 289.7 419.6 290.9 420.3 C292.1 421.1 294.8 422.6 297 423.5 C299.2 424.4 302.8 425.6 304.4 425.9 C306 426.2 305.9 426.2 306.6 425.4 C307.3 424.6 308.3 421.6 308.6 420.9"/>
<path d="M291.4 414.1 C292.2 414.7 294.2 416.5 296 417.5 C297.8 418.5 300.1 419.4 302 420 C303.9 420.6 306.3 421.2 307.2 421.4"/>
<path d="M299.5 407.2 C300.1 407.6 301.6 408.9 303 409.5 C304.4 410.1 307.2 410.6 308 410.8" stroke-width="1.3"/>
<path d="M300 407.5 L295.5 416.5" stroke-width="1.3"/>
<path d="M302.5 409.5 L299 418.5" stroke-width="1.3"/>
<path d="M305 410.5 L302.5 420" stroke-width="1.3"/>
<path d="M307.5 411 L306.5 421" stroke-width="1.3"/>
<ellipse cx="407" cy="690.5" rx="10.2" ry="12" transform="rotate(15 407 690.5)"/>
<ellipse cx="408.7" cy="691.8" rx="4.2" ry="5.4" transform="rotate(25 408.7 691.8)" stroke-width="1.3"/>
<path d="M379 667.8 C378.4 668.5 376.2 670.5 375.5 672 C374.8 673.5 374.7 675.3 374.6 677 C374.6 678.7 374.8 680.5 375.2 682 C375.6 683.5 376 684.9 377 686 C378 687.1 380.3 688.1 381 688.5"/>
<path d="M379 667.8 C379.7 667.8 381.8 667.3 383 667.6 C384.2 667.9 385.5 669.2 386 669.5"/>
<path d="M386 669.5 C385.4 670.1 383.4 671.4 382.5 673 C381.6 674.6 380.8 677 380.5 679 C380.2 681 380.7 683.3 381 685 C381.3 686.7 381.7 688 382.5 689 C383.3 690 385.4 690.8 386 691.2"/>
<path d="M386 669.5 C386.7 669.5 388.8 669.4 390 669.8 C391.2 670.2 392.5 671.6 393 672"/>
<path d="M393 672 C392.4 672.7 390.4 674.3 389.5 676 C388.6 677.7 387.8 680 387.5 682 C387.2 684 387.7 686.2 388 688 C388.3 689.8 388.8 691.7 389.5 693 C390.2 694.3 391.6 695.5 392 696"/>
<path d="M393 672 C393.7 672.2 395.8 672.3 397 673 C398.2 673.7 399.5 675.5 400 676"/>
<path d="M400 676 C399.5 676.7 397.8 678.3 397 680 C396.2 681.7 395.3 684 395 686 C394.7 688 395.1 690.2 395.3 692 C395.6 693.8 395.9 695.8 396.5 697 C397.1 698.2 398.6 699.1 399 699.5"/>
<path d="M381 688.5 C381.3 688.9 382.2 690.5 383 691 C383.8 691.5 385.5 691.4 386 691.5"/>
<path d="M386 691.5 C386.3 691.9 387 693.2 388 694 C389 694.8 391.3 695.7 392 696"/>
<path d="M392 696 C392.3 696.4 392.8 697.8 394 698.5 C395.2 699.2 398.2 699.8 399 700"/>
<path d="M371.5 670.5 L364 666.2" stroke-width="1.3"/>
<path d="M409 691.5 L450 716.5"/>
<path d="M261.3 945.7 C261.2 945.6 260.8 945.3 260.6 945.1 C260.3 944.9 260.1 944.6 259.9 944.3 C259.7 944.1 259.6 943.7 259.4 943.4 C259.3 943.1 259.2 942.7 259.1 942.3 C259 942 258.9 941.6 258.9 941.2 C258.9 940.8 258.8 940.3 258.9 939.9 C258.9 939.5 258.9 939 259 938.6 C259 938.1 259.1 937.7 259.2 937.2 C259.4 936.8 259.5 936.3 259.7 935.9 C259.8 935.4 260 935 260.2 934.6 C260.4 934.1 260.6 933.7 260.9 933.3 C261.1 933 261.4 932.6 261.7 932.2 C261.9 931.9 262.2 931.5 262.5 931.2 C262.8 930.9 263.1 930.6 263.5 930.4 C263.8 930.2 264.1 929.9 264.4 929.7 C264.8 929.6 265.1 929.4 265.4 929.3 C265.8 929.2 266.1 929.1 266.4 929 C266.7 929 267.1 929 267.4 929 C267.7 929 268 929.1 268.3 929.2 C268.6 929.2 269 929.5 269.1 929.5"/>
<ellipse cx="270.3" cy="940.2" rx="5.8" ry="9" transform="rotate(22 270.3 940.2)"/>
<ellipse cx="271.2" cy="940.8" rx="4.4" ry="7" transform="rotate(22 271.2 940.8)" stroke-width="1.35"/>
<path d="M266.4 948.3 L261.3 945.7"/>
<path d="M274.2 932.1 L269.1 929.5"/>
<path d="M272.9 946.5 C272.7 946.5 272.2 946.6 271.9 946.6 C271.7 946.6 271.4 946.5 271.1 946.4 C270.9 946.2 270.7 946 270.5 945.7 C270.3 945.5 270.2 945.1 270.1 944.8 C270 944.4 270 944 270 943.6 C270 943.2 270.1 942.7 270.2 942.3 C270.3 941.8 270.5 941.4 270.7 941 C270.9 940.6 271.1 940.1 271.4 939.8 C271.6 939.4 271.9 939.1 272.2 938.8 C272.6 938.5 272.9 938.3 273.2 938.1 C273.5 937.9 273.9 937.8 274.2 937.8 C274.5 937.7 274.8 937.8 275.1 937.9 C275.4 937.9 275.6 938.1 275.8 938.3 C276 938.5 276.2 939 276.3 939.1" stroke-width="1.3"/>
<path d="M275.2 938.4 L298.8 951.3"/>
<path d="M271.9 947.2 L295.8 960.4"/>
<ellipse cx="297.6" cy="955.8" rx="3.2" ry="4.8" transform="rotate(25 297.6 955.8)"/>
<path d="M276.8 949.3 C276.7 949.3 276.2 949.1 275.9 949 C275.7 948.8 275.5 948.5 275.3 948.3 C275.1 948 275 947.6 274.9 947.3 C274.8 946.9 274.8 946.5 274.8 946.1 C274.8 945.6 274.8 945.2 274.9 944.8 C275 944.3 275.2 943.9 275.4 943.4 C275.6 943 275.8 942.6 276.1 942.3 C276.4 941.9 276.7 941.6 277 941.3 C277.3 941 277.7 940.8 278 940.6 C278.3 940.4 278.7 940.3 279 940.3 C279.3 940.2 279.7 940.2 280 940.3 C280.3 940.4 280.7 940.7 280.8 940.8" stroke-width="1.35"/>
<path d="M280.7 951.4 C280.6 951.4 280.1 951.2 279.8 951.1 C279.6 950.9 279.4 950.6 279.2 950.4 C279 950.1 278.9 949.7 278.8 949.4 C278.7 949 278.7 948.6 278.7 948.2 C278.7 947.7 278.7 947.3 278.8 946.9 C278.9 946.4 279.1 946 279.3 945.5 C279.5 945.1 279.7 944.7 280 944.4 C280.3 944 280.6 943.7 280.9 943.4 C281.2 943.1 281.6 942.9 281.9 942.7 C282.2 942.5 282.6 942.4 282.9 942.4 C283.2 942.3 283.6 942.3 283.9 942.4 C284.2 942.5 284.6 942.8 284.7 942.9" stroke-width="1.35"/>
<path d="M284.6 953.5 C284.5 953.5 284 953.3 283.7 953.2 C283.5 953 283.3 952.7 283.1 952.5 C282.9 952.2 282.8 951.8 282.7 951.5 C282.6 951.1 282.6 950.7 282.6 950.3 C282.6 949.8 282.6 949.4 282.7 949 C282.8 948.5 283 948.1 283.2 947.6 C283.4 947.2 283.6 946.8 283.9 946.5 C284.2 946.1 284.5 945.8 284.8 945.5 C285.1 945.2 285.5 945 285.8 944.8 C286.1 944.6 286.5 944.5 286.8 944.5 C287.1 944.4 287.5 944.4 287.8 944.5 C288.1 944.6 288.5 944.9 288.6 945" stroke-width="1.35"/>
<path d="M288.5 955.6 C288.4 955.6 287.9 955.4 287.6 955.3 C287.4 955.1 287.2 954.8 287 954.6 C286.8 954.3 286.7 953.9 286.6 953.6 C286.5 953.2 286.5 952.8 286.5 952.4 C286.5 951.9 286.5 951.5 286.6 951.1 C286.7 950.6 286.9 950.2 287.1 949.7 C287.3 949.3 287.5 948.9 287.8 948.6 C288.1 948.2 288.4 947.9 288.7 947.6 C289 947.3 289.4 947.1 289.7 946.9 C290 946.7 290.4 946.6 290.7 946.6 C291 946.5 291.4 946.5 291.7 946.6 C292 946.7 292.4 947 292.5 947.1" stroke-width="1.35"/>
<path d="M292.4 957.7 C292.3 957.7 291.8 957.5 291.5 957.4 C291.3 957.2 291.1 956.9 290.9 956.7 C290.7 956.4 290.6 956 290.5 955.7 C290.4 955.3 290.4 954.9 290.4 954.5 C290.4 954 290.4 953.6 290.5 953.2 C290.6 952.7 290.8 952.3 291 951.8 C291.2 951.4 291.4 951 291.7 950.7 C292 950.3 292.3 950 292.6 949.7 C292.9 949.4 293.3 949.2 293.6 949 C293.9 948.8 294.3 948.7 294.6 948.7 C294.9 948.6 295.3 948.6 295.6 948.7 C295.9 948.8 296.3 949.1 296.4 949.2" stroke-width="1.35"/>
<path d="M679.1 580 C679.1 579.1 678.9 576.1 679.3 574.5 C679.6 572.9 680.2 571.5 681.2 570.3 C682.2 569.1 684.9 567.9 685.6 567.4"/>
<path d="M685.6 567.4 L800 501.7 L857.6 467.8"/>
<path d="M857.6 467.8 C858.3 467.6 860.3 466.9 862 466.8 C863.7 466.7 865.8 466.4 868 467.2 C870.2 468 872.8 470.2 875 471.5 C877.2 472.8 880 474.4 881 475"/>
<path d="M881 475 L897.9 484"/>
<path d="M679.1 580 L679.1 597.8 L682.2 599.8 L682.2 634.2 L679.6 634.9 L678.9 643.3"/>
<path d="M678.9 643.3 C680.4 644.2 683.7 646.6 688 648.5 C692.3 650.4 701.5 652.9 704.9 654.4 C708.3 655.9 707.6 656.5 708.2 657.6 C708.9 658.7 708.7 660.4 708.8 660.9"/>
<path d="M688.2 620 C688.2 613.7 688 589.1 688.2 582 C688.4 574.9 688.7 578.6 689.2 577.5 C689.8 576.4 690.5 576 691.5 575.2 C692.5 574.5 694.4 573.4 695 573"/>
<path d="M695 573 L779.2 525.1"/>
<path d="M688.7 590 L688.7 647.2"/>
<path d="M779.9 521.2 L800 509.5 L821.2 497.7"/>
<path d="M779.9 521.2 L781.8 523.2 L781.8 597.9"/>
<path d="M781.8 597.9 L879.7 544.5"/>
<path d="M781.8 590.1 L870.6 544.5"/>
<path d="M731.1 581 C731.2 576.9 731.1 575.4 732.4 573.2 C733.7 571 732.8 571.5 738.9 568 C745 564.5 763.3 555 768.8 552.4 C774.3 549.8 771.1 552.2 772 552.6 C772.9 553 773.7 551.4 774 555 C774.3 558.6 774.9 569.7 774 574.5 C773.1 579.3 775.1 579.1 768.8 583.6 C762.5 588.1 742.3 598.9 736.3 601.8 C730.3 604.7 733.8 601.6 733 601 C732.2 600.4 732.1 601.2 731.8 597.9 C731.5 594.6 731 585.1 731.1 581Z"/>
<path d="M768.8 553.7 C768.7 557.2 769.1 570 768.2 574.5 C767.3 579 769.6 577.2 763.6 581 C757.6 584.8 737.6 594.6 732.4 597.3" stroke-width="1.3"/>
<path d="M868 543.2 C864.6 541.4 862 538 860.9 532.8 C859.8 527.6 859.9 518.3 861.5 512 C863.1 505.7 866.9 499.4 870.6 495.1 C874.3 490.8 879.5 487.9 883.6 486 C887.7 484.1 891.8 483.4 895.3 484 C898.8 484.6 902.3 487 904.4 489.9 C906.5 492.8 907.7 496.2 907.7 501.6 C907.7 507 906.7 516.5 904.4 522.4 C902.1 528.2 897.9 533.1 894 536.7 C890.1 540.3 885.3 542.8 881 543.9 C876.7 545 871.4 545.1 868 543.2Z"/>
<path d="M869.3 518.5 C869.9 514.2 871.7 506.7 874.5 502.9 C877.3 499.1 882.7 496.7 886.2 495.8 C889.7 494.9 893.2 495.9 895.3 497.7 C897.4 499.5 898.6 502.9 898.6 506.8 C898.6 510.7 897.4 517.1 895.3 521.1 C893.2 525.1 889.5 528.8 886.2 530.9 C883 533 878.4 533.8 875.8 533.5 C873.2 533.2 871.7 531.4 870.6 528.9 C869.5 526.4 868.6 522.8 869.3 518.5Z"/>
<path d="M862.8 484 C860.6 486.5 852.2 493.9 849.5 499 C846.8 504.1 846.6 509.6 846.6 514.6 C846.6 519.6 847.4 524.8 849.8 528.9 C852.2 533 859 537.6 860.9 539.3"/>
<path d="M845.9 492.5 C844.6 495.8 839.6 506.1 838.1 512 C836.6 517.9 836.1 522.8 836.8 527.6 C837.4 532.4 839.2 536.9 842 540.6 C844.8 544.3 851.8 548.2 853.7 549.7"/>
<path d="M821.2 497.7 C820.5 501.2 816.9 512.2 816.7 518.5 C816.5 524.8 817.9 530.4 819.9 535.4 C821.9 540.4 824.9 545.5 829 548.4 C833.1 551.3 840.1 552.7 844.6 553 C849.1 553.3 852.4 551.6 856.3 550.4 C860.2 549.2 866 546.6 868 545.8"/>
<path d="M821.2 497.7 L845.9 492.5"/>
<path d="M845.9 492.5 L862.8 484 L879.7 476.3"/>
<path d="M879.7 476.3 C881.2 476.4 886 475.7 889 477 C892 478.3 895.3 481.9 897.9 484 C900.5 486.1 903.3 488.9 904.4 489.9"/>
<path d="M879.7 544.5 L873.1 570 L852.3 637.6"/>
<path d="M852.3 637.6 C852.2 638.1 851.4 639.2 851.7 640.9 C852 642.6 854 645.7 854.3 648 C854.6 650.3 853.7 653.4 853.6 654.5"/>
<path d="M853.6 654.5 L844.5 687"/>
<path d="M834.1 585.6 C834.5 583.2 835 580.8 836.7 579.1 C838.4 577.4 841.2 576.7 844.5 575.2 C847.8 573.7 853.4 570.4 856.2 570 C859 569.6 860.5 571.3 861.4 572.6 C862.3 573.9 863.1 571.3 861.4 577.8 C859.7 584.3 853.4 605 851 611.6 C848.6 618.2 848.8 616.9 847.1 617.5 C845.4 618.1 842.8 619.5 840.6 615.5 C838.4 611.5 835.2 598.4 834.1 593.4 C833 588.4 833.7 588 834.1 585.6Z"/>
<path d="M844.5 575.2 L836.7 599.9" stroke-width="1.3"/>
<path d="M750.6 620 C752.2 619 756.3 616 760 614.2 C763.7 612.4 766.3 611 773 609 C779.7 607 791.8 604 800 602 C808.2 600 818.7 598.1 822.4 597.3"/>
<path d="M712.7 671.9 C712.6 667.8 711.1 652.6 712 647.2 C712.9 641.8 714.3 642.2 717.9 639.4 C721.5 636.6 728 633.5 733.5 630.3 C739 627.1 747.8 621.7 750.6 620"/>
<path d="M727 664.1 C727.9 661.1 730 650.2 732.2 645.9 C734.4 641.6 734.4 640.5 740 638.1 C745.6 635.7 760.4 632.9 766 631.6 C771.6 630.3 768.7 630.2 773.8 630.3 C778.9 630.4 790.5 631.7 796.4 632.4 C802.3 633.1 806.4 633.3 809.4 634.4 C812.4 635.5 813.3 636.6 814.6 638.9 C815.9 641.2 816.3 644.8 817.2 648 C818.1 651.2 818.7 654.9 819.8 658.4 C820.9 661.9 823.1 666.2 823.7 668.8 C824.4 671.4 824.6 671.4 823.7 674 C822.8 676.6 819.2 681.8 818.5 684.4 C817.8 687 819.1 688.7 819.2 689.6"/>
<path d="M797 632.4 C797.8 634.5 800.1 640.2 802 645 C803.9 649.8 806.6 656.6 808.1 661 C809.6 665.4 810.5 668.6 810.7 671.4 C810.9 674.2 809.6 676.8 809.4 677.9"/>
<path d="M809.4 677.9 L809.4 680.5 L818.5 684.4"/>
<path d="M820.5 649.3 L847.8 642.2"/>
<path d="M826.9 665.6 L849.7 655.2"/>
<path d="M809.4 685.7 L801.6 701.3"/>
<path d="M819.2 689.6 L810.7 709.1"/>
<path d="M809.4 680.5 L809.4 685.7 L819.2 689.6"/>
<path d="M828.9 690.9 L834.1 680.5 L843.2 687 L839.3 696.1 L836.7 700"/>
<path d="M828.9 690.9 L829.6 696.1 L838.7 700"/>
<path d="M829.6 698 L819.8 714.3"/>
<path d="M838.7 700 L830.2 719.5"/>
<path d="M844.5 688.3 C844.7 689.8 845.6 693.8 845.8 697 C846 700.2 847.1 703.4 845.8 707.8 C844.5 712.2 840.5 719.9 838 723.4 C835.5 726.9 832.1 727.7 830.9 728.6"/>
<path d="M793.8 701.3 C792.1 702.2 786.2 703.5 783.4 706.5 C780.6 709.5 777.5 715.8 776.9 719.5 C776.2 723.2 777 725.9 779.5 728.6 C782 731.4 787.9 733.6 792 736 C796.1 738.4 800.5 741.4 804.2 742.9 C807.9 744.4 811 744.7 814 745 C817 745.3 820.1 745.9 822.4 744.9 C824.7 743.9 826.5 741.5 827.6 739 C828.7 736.5 829.3 732.4 828.9 729.9 C828.5 727.4 826.5 725.7 825 724 C823.5 722.3 820.7 720.2 819.8 719.5"/>
<path d="M793.8 701.3 L830.2 720.8"/>
<path d="M789.2 719.5 C789.1 720.8 788.2 724.4 788.5 727 C788.8 729.6 790.8 733.8 791.2 735.1" stroke-width="1.35"/>
<path d="M802.9 713 L792.5 731.2" stroke-width="1.35"/>
<path d="M818.5 719.5 C818.2 721.2 817.1 727 816.5 730 C815.9 733 815.7 735.7 814.6 737.7 C813.5 739.7 810.8 741.3 810 742" stroke-width="1.35"/>
<path d="M793 736.5 L802 740.5" stroke-width="1.35"/>
<path d="M702.4 654.8 C703.1 654.8 705.3 653.9 706.4 654.8 C707.5 655.7 708.4 659.5 708.8 660.4"/>
<path d="M703 656 C703.3 658.7 704 666.3 705 672 C706 677.7 708.6 685.9 708.8 690 C709 694.1 706.4 694.3 706 696.4 C705.6 698.5 704.2 700.5 706.4 702.8 C708.6 705.1 715.3 707.8 719.2 710 C723.1 712.2 726.1 713.9 730 716 C733.9 718.1 740.3 721.7 742.4 722.8"/>
<path d="M712 650 L712 673.2"/>
<path d="M718.4 678 C718.7 679.7 719.5 684.8 720 688 C720.5 691.2 721.7 694.9 721.6 697.2 C721.5 699.5 719.7 700 719.2 702 C718.7 704 718.5 708 718.4 709.2"/>
<path d="M724 701.2 C723.7 702 722.7 704.1 722.4 706 C722.1 707.9 722.4 711.3 722.4 712.4" stroke-width="1.35"/>
<path d="M712 673.2 L727.2 665.2 L748.8 682"/>
<path d="M712 673.2 L733.6 686"/>
<path d="M738.4 671.6 L746.4 657.6 L756.8 656.8 L770.4 664.4 L774.4 673.2 L770.4 680.4 L766.4 678.4 L752.8 699.6 L752 704.4"/>
<path d="M750 660 L764 668" stroke-width="1.3"/>
<path d="M757.6 668.8 L741.6 695.6 L741.6 706"/>
<path d="M734.4 685.5 C734.4 684.8 734.1 682.7 734.6 681.5 C735.1 680.3 736.4 679.1 737.5 678.5 C738.6 677.9 740.2 677.6 741.5 677.8 C742.8 677.9 744.4 679.1 745 679.4"/>
<path d="M734.4 684.4 L741.6 695.6"/>
<ellipse cx="749.6" cy="715.6" rx="6.4" ry="9.4" transform="rotate(30 749.6 715.6)"/>
<path d="M741.6 706 L748 703.6"/>
<path d="M722.4 712.4 L743.2 723.6"/>
<path d="M450 716.5 L480 732.5 L628 646 L675 672.6 L704.3 689.5"/>
<path d="M495.5 176.8 L493.1 184.3 L497 185.6 L495.6 193 L491.6 192 L488.3 196 L501.2 200.2 L507.5 192.4"/>
<path d="M495.5 176.8 C497.1 177.3 503.3 179 505.4 179.8 C507.5 180.6 507.5 180.4 508.1 181.6 C508.7 182.8 509.1 185.2 509 187 C508.9 188.8 507.8 191.5 507.5 192.4"/>
<path d="M494.5 180 L497.5 181" stroke-width="1.3"/>
<path d="M492 189 L495.5 190.2" stroke-width="1.3"/>
<ellipse cx="505.4" cy="186.4" rx="2.2" ry="3.3" transform="rotate(30 505.4 186.4)" stroke-width="1.35"/>
<path d="M505.7 179.2 C505.9 178.2 506.5 174.9 507.2 173.2 C507.9 171.5 508.5 170.3 509.6 169 C510.7 167.7 511.4 167.1 513.8 165.4 C516.2 163.7 520.6 161 524 158.8 C527.4 156.6 531.9 153.5 534.2 152.2 C536.5 150.9 536.3 151 537.7 151 C539.1 151 541.1 151.4 542.6 152 C544.1 152.6 544.2 153.2 546.8 154.8 C549.4 156.4 555.9 160.4 558 161.8 C560.1 163.2 558.9 162.6 559.4 163.2 C559.9 163.8 559.9 164.9 560.8 165.3 C561.7 165.7 563.6 165.5 565 165.7 C566.4 165.9 565.7 165.9 569.2 166.7 C572.7 167.4 582.4 169.1 586 170.2 C589.6 171.2 589.5 171.9 590.9 173 C592.3 174.1 593.6 175.1 594.4 176.5 C595.2 177.9 595.5 179.2 595.8 181.4 C596.1 183.6 596.1 188.4 596.2 189.8"/>
<path d="M507.5 180.4 C507.8 179.3 508.4 175.5 509 173.8 C509.6 172.1 510.4 171.3 511.4 170.2 C512.4 169.1 512.7 168.8 515 167.2 C517.3 165.6 521.6 162.8 525 160.5 C528.4 158.2 533.3 154.8 535.4 153.4 C537.5 152.1 537.4 152.6 537.8 152.4" stroke-width="1.3"/>
<path d="M510.2 183.4 C510.4 182.4 510.8 179.1 511.4 177.4 C512 175.7 512.4 174.8 513.8 173.2 C515.2 171.6 517.8 169.8 520 168 C522.2 166.2 525.4 163.4 527 162.4 C528.6 161.4 527.7 162.2 529.4 162.1 C531.1 162 534 162.1 537 162 C540 161.9 544.9 161.7 547.5 161.8 C550.1 161.9 550.6 162.2 552.4 162.5 C554.1 162.8 556.6 163.3 558 163.9 C559.4 164.5 559.6 165.2 560.8 166 C562 166.8 563.6 168 565 168.8 C566.4 169.6 567.8 170.2 569.2 170.6 C570.6 170.9 571.8 170.5 573.4 170.9 C575 171.3 577.4 171.8 579 173 C580.6 174.2 580.6 175.1 583.2 177.9 C585.8 180.7 592.5 187.8 594.4 189.8"/>
<path d="M512 186.4 C512.2 185.5 512.5 182.9 513 181 C513.5 179.1 513.9 176.7 515 175 C516.1 173.3 517.4 172.5 519.8 170.8 C522.2 169.1 526.5 165.9 529.4 164.8 C532.3 163.7 534.4 164.1 537 164 C539.6 163.9 542.5 164.1 545 164.2 C547.5 164.3 550.8 164.4 552 164.4" stroke-width="1.3"/>
<path d="M515 175 L517.4 174.2" stroke-width="1.3"/>
<path d="M517.4 174.4 L514.4 186.4" stroke-width="1.35"/>
<path d="M511.4 186.6 L515 186.6" stroke-width="1.3"/>
<path d="M511.4 187 C511.7 187.5 512 189.1 513.2 190 C514.4 190.9 516.3 191.4 518.6 192.4 C520.9 193.4 522.6 194.3 527 196 C531.4 197.7 539.5 200.5 545 202.6 C550.5 204.7 555.6 206.7 560 208.5 C564.4 210.3 569.5 212.8 571.4 213.6" stroke-width="1.3"/>
<path d="M507.8 192.4 C509.8 193.4 515.8 196.4 520 198.5 C524.2 200.6 527.8 202.9 533 205 C538.2 207.1 544.5 208.9 551 211.2 C557.5 213.4 568.5 217.3 572 218.5" stroke-width="2.1"/>
<ellipse cx="541.9" cy="185.6" rx="5.6" ry="8.2" transform="rotate(22 541.9 185.6)"/>
<ellipse cx="564" cy="194.4" rx="5.6" ry="8.2" transform="rotate(22 564 194.4)"/>
<path d="M561.7 215.8 L565.6 217 L573.4 219 L575.4 222.9 L574 229.4 L568.2 237.9 L556.5 234 L557.8 230.7 L559.8 231.4 L561.7 225.5 L560.4 222.9 L562.4 219 L561.7 215.8"/>
<ellipse cx="572.1" cy="224.9" rx="2.2" ry="3.1" transform="rotate(25 572.1 224.9)" stroke-width="1.35"/>
<path d="M571.5 217.7 C571.7 216.6 571.6 213.6 572.8 211.2 C574 208.8 575 206.5 578.6 203.4 C582.2 200.3 589.9 194.7 594.2 192.4 C598.5 190.1 602.9 190.2 604.6 189.8"/>
<path d="M573.5 218.5 C573.7 217.4 573.6 214.4 574.8 212.2 C575.9 209.9 576.9 208 580.4 205 C583.9 202 591.3 196.6 595.6 194.4 C599.9 192.2 604.3 192.1 606 191.6" stroke-width="1.3"/>
<path d="M575.5 219.5 C575.7 218.5 575.6 215.7 576.8 213.5 C577.9 211.3 579 209.4 582.4 206.5 C585.8 203.6 592.8 198.4 597 196.2 C601.2 194 605.8 193.7 607.5 193.2" stroke-width="1.3"/>
<path d="M604.6 189.8 C605.5 190 607.6 190.1 609.8 191 C612 191.9 615.4 194.1 618 195.5 C620.6 196.9 623.9 198.3 625.4 199.5 C626.9 200.7 625.6 202.1 626.7 202.8 C627.8 203.6 630.6 203.7 631.9 204 C633.2 204.3 630.8 203.9 634.5 204.7 C638.2 205.5 649.8 207.5 654 208.6 C658.2 209.7 658.6 209.9 659.9 211.2 C661.2 212.5 661.2 213.6 661.8 216.4 C662.4 219.2 663.1 224.3 663.5 228 C663.9 231.7 664.5 235 664.4 238.5 C664.3 242 663.5 246.5 663.1 248.9 C662.7 251.3 662 252.2 661.8 252.8"/>
<path d="M661.8 252.8 L663.1 255.4 L670.3 257.4 L668.3 263.2 L665.7 264.5 L665 272.3 L663.1 276.2 L652.7 273 L650.1 260.6"/>
<path d="M652.7 260.6 L654 273" stroke-width="1.35"/>
<ellipse cx="659.9" cy="259.3" rx="2.2" ry="3.1" transform="rotate(25 659.9 259.3)" stroke-width="1.35"/>
<path d="M574.7 231.4 C578.2 233.2 589.3 239.5 595.5 242.4 C601.7 245.3 606.6 247.1 612 249 C617.4 250.9 621.9 252.4 628 254.1 C634.1 255.8 645.1 258.2 648.8 259.3 C652.5 260.4 649.9 260.4 650.1 260.6" stroke-width="2.0"/>
<path d="M613.7 227.5 L628 235.3 L628 297.8" stroke-width="1.35"/>
<path d="M628 302 L628 308" stroke-width="1.35"/>
<path d="M628 312.7 L628 430.4" stroke-width="1.35"/>
<path d="M628 435.2 L628 440.5" stroke-width="1.35"/>
<path d="M628 445.3 L628 563 L661.5 582" stroke-width="1.35"/>
<path d="M449.8 135 L448 136.2 L445.3 135.9 L443.5 138 L442.9 140.7 L444.4 141.6 L444.4 144 L443.5 147 L443.5 149.4 L439.9 149.4 L438.1 151.8 L443.8 155.7 L442.9 157.8 L443.8 159 L452.8 164.4 L459.4 168 L466.6 168 L467.8 165.6 L472 166.2 L472.6 162 L473.8 158.4 L476.2 159.6 L478 156 L476.8 153.6 L478 151.2 L483.4 147.3 L481.6 144 L480.5 146 L473.5 141 L467.8 145.8 L461.8 155.4 L453.7 150.6 L458.8 140.7 L465.4 136.2 L454.9 130.5 L453.4 127.5 L450.4 129.6 L450.1 132.6 L449.8 135"/>
<path d="M449.8 135.3 L458.8 140.7" stroke-width="1.35"/>
<path d="M468.4 145.8 L477.4 151.2" stroke-width="1.35"/>
<path d="M452.8 164.6 L474.7 175" stroke-width="1.3"/>
<path d="M459.5 165.5 L474.7 173.6" stroke-width="2.2"/>
<path d="M695.6 235 L696.4 232.8 L702.8 232 L702.8 229 L701.6 227.5 L702 226 L704.3 223 L706.9 221.5 L707.3 215.1 L708.8 213.6 L709.5 216.3 L716.3 220.4 L717 224.1 L715.5 224.5 L711.8 237.3 L723.8 244.8 L729 228.3 L729.8 227.9 L732 229.8 L739.5 232.8 L740.3 232 L739.6 236 L738 238.8 L740.3 243.3 L738 246.3 L736.5 248.5 L733.5 249.3 L729 250.4"/>
<path d="M708 217 L716.2 221.4" stroke-width="1.35"/>
<path d="M707.3 220.4 L715.5 224.5" stroke-width="1.35"/>
<path d="M730.5 229.8 L739.5 234.6" stroke-width="1.35"/>
<path d="M729.8 232 L738.8 236.9" stroke-width="1.35"/>
<path d="M696.8 233.5 L726.5 250.5 L727.1 253 L724.5 258.3 L694.5 237.3 L695.6 235"/>
<path d="M698.5 235.6 L725.5 252" stroke-width="1.35"/>
<path d="M677.6 238.4 C678.3 238.5 680.3 238.6 681.8 238.8 C683.2 239 684.4 238.9 686.3 239.5 C688.2 240.1 691.1 241.9 693 242.5 C694.9 243.1 696.8 243.2 697.5 243.3"/>
<path d="M677.6 238.4 C677.4 238.7 675.9 239.6 676.5 240.3 C677.1 241 679.9 241.8 681 242.5 C682.1 243.2 681.7 243.7 683.3 244.8 C684.9 245.9 687.9 247.9 690.8 249.3 C693.7 250.7 697.6 251.9 700.5 253 C703.4 254.1 706.1 255.3 708 256 C709.9 256.7 710.2 256.9 711.8 257.1 C713.4 257.4 716.8 257.4 717.8 257.5"/>
<path d="M706.5 250 L717.8 257.1" stroke-width="1.8"/>
<path d="M86.3 1253.3 L102.4 1224.6 L105.9 1226.7 L107 1228.1 L136 1211 L140.9 1212.7 L141.6 1236.5 L106.6 1255 L106.6 1263.1 L86.3 1253.3" stroke-width="2.0"/>
<path d="M90.8 1254.3 L104 1229" stroke-width="1.6"/>
<path d="M106.6 1232.3 L140.2 1213.2" stroke-width="1.6"/>
<path d="M107 1228.1 L106.6 1232.3" stroke-width="1.6"/>
<text x="0" y="0" font-size="23.2" font-weight="bold" stroke="#000" stroke-width="1.7" fill="#000" transform="matrix(0.565,-0.269,-0.235,0.972,108.6,1250.4)">FWD</text>
</g>
</svg>
</body></html>
